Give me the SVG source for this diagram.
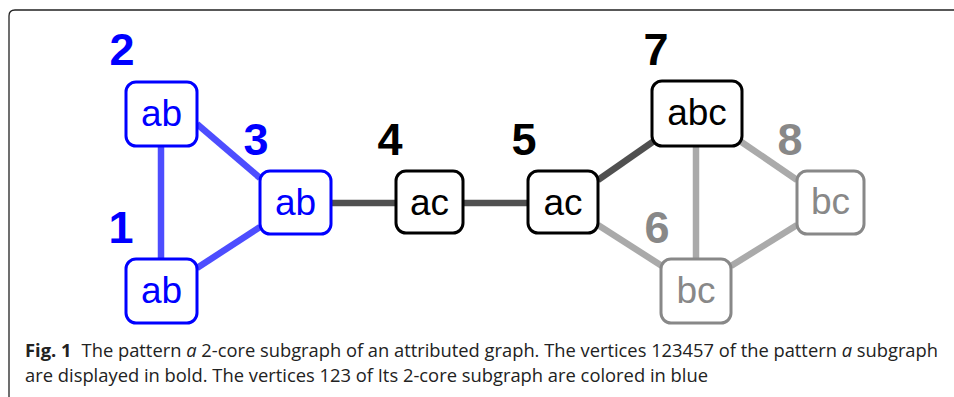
<svg xmlns="http://www.w3.org/2000/svg" width="954" height="397" viewBox="0 0 954 397">
<style>
.box{fill:#fff;stroke-width:3}
.blue .box{stroke:#0000ff}
.blue text{fill:#0000ff}
.black .box{stroke:#000}
.black text{fill:#000}
.gray .box{stroke:#888}
.gray text{fill:#888}
.t{font-family:"Liberation Sans",Arial,sans-serif;font-size:37px;text-anchor:middle}
.n{font-family:"Liberation Sans",Arial,sans-serif;font-size:45px;font-weight:bold;text-anchor:middle}
.e{stroke-width:6.5;fill:none}
.eb{stroke:#4d4dff}
.ed{stroke:#505050}
.eg{stroke:#aaaaaa}
.cap{font-family:"Open Sans","Liberation Sans",sans-serif;font-size:18px;fill:#222}
</style>
<rect width="954" height="397" fill="#fff"/>
<path d="M9,397 V16 Q9,10 15,10 H954" fill="none" stroke="#222" stroke-width="1.3"/>
<g id="connectors">
<line class="e eb" x1="161" y1="146" x2="161" y2="258"/>
<line class="e eb" x1="197" y1="124" x2="260" y2="178"/>
<line class="e eb" x1="197" y1="268" x2="260" y2="227"/>
<line class="e ed" x1="332" y1="203" x2="396" y2="203"/>
<line class="e ed" x1="463" y1="203" x2="528" y2="203"/>
<line class="e ed" x1="598" y1="180" x2="654" y2="141"/>
<line class="e eg" x1="598" y1="225" x2="662" y2="266"/>
<line class="e eg" x1="696" y1="146" x2="696" y2="259"/>
<line class="e eg" x1="740" y1="141" x2="797" y2="180"/>
<line class="e eg" x1="731" y1="266" x2="797" y2="225"/>
</g>
<g id="node1" class="blue">
<rect class="box" x="126" y="259" width="71" height="64" rx="10"/>
<text class="t" x="161.5" y="303">ab</text>
<text class="n" x="121" y="243">1</text>
</g>
<g id="node2" class="blue">
<rect class="box" x="126" y="82" width="71" height="64" rx="10"/>
<text class="t" x="161.5" y="126">ab</text>
<text class="n" x="122" y="65">2</text>
</g>
<g id="node3" class="blue">
<rect class="box" x="260" y="171" width="71" height="63" rx="10"/>
<text class="t" x="295.5" y="215">ab</text>
<text class="n" x="256" y="155">3</text>
</g>
<g id="node4" class="black">
<rect class="box" x="396" y="171" width="67" height="62" rx="10"/>
<text class="t" x="429.5" y="215">ac</text>
<text class="n" x="390" y="155">4</text>
</g>
<g id="node5" class="black">
<rect class="box" x="528" y="171" width="70" height="62" rx="10"/>
<text class="t" x="563" y="215">ac</text>
<text class="n" x="524" y="155">5</text>
</g>
<g id="node6" class="gray">
<rect class="box" x="661" y="259" width="70" height="64" rx="10"/>
<text class="t" x="696" y="303">bc</text>
<text class="n" x="657" y="243" fill="#808080">6</text>
</g>
<g id="node7" class="black">
<rect class="box" x="652" y="81" width="90" height="65" rx="10"/>
<text class="t" x="697" y="125">abc</text>
<text class="n" x="656" y="65">7</text>
</g>
<g id="node8" class="gray">
<rect class="box" x="797" y="171" width="67" height="63" rx="10"/>
<text class="t" x="830.5" y="214">bc</text>
<text class="n" x="790" y="155" fill="#808080">8</text>
</g>
<g id="caption">
<text class="cap" x="25" y="357" textLength="913" lengthAdjust="spacingAndGlyphs"><tspan font-weight="bold">Fig. 1</tspan><tspan dx="10">The pattern </tspan><tspan font-style="italic">a</tspan> 2-core subgraph of an attributed graph. The vertices 123457 of the pattern <tspan font-style="italic">a</tspan> subgraph</text>
<text class="cap" x="25" y="382" textLength="683" lengthAdjust="spacingAndGlyphs">are displayed in bold. The vertices 123 of Its 2-core subgraph are colored in blue</text>
</g>
</svg>
